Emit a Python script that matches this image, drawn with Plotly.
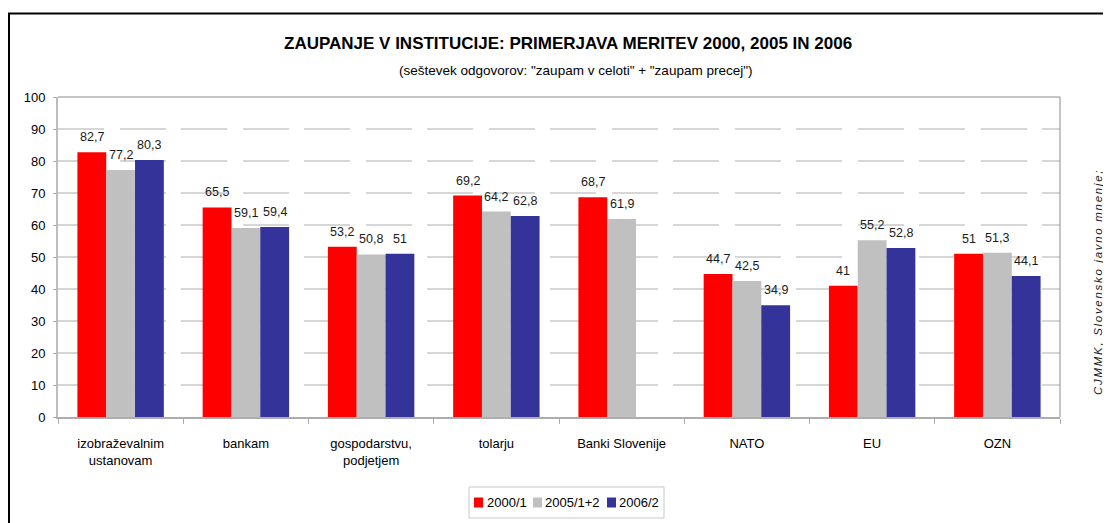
import plotly.graph_objects as go

# ---------------- data ----------------
categories = ["izobraževalnim<br>ustanovam", "bankam", "gospodarstvu,<br>podjetjem",
              "tolarju", "Banki Slovenije", "NATO", "EU", "OZN"]
series_names = ["2000/1", "2005/1+2", "2006/2"]
values_2000 = [82.7, 65.5, 53.2, 69.2, 68.7, 44.7, 41, 51]
values_2005 = [77.2, 59.1, 50.8, 64.2, 61.9, 42.5, 55.2, 51.3]
values_2006 = [80.3, 59.4, 51, 62.8, None, 34.9, 52.8, 44.1]
y_ticks = [0, 10, 20, 30, 40, 50, 60, 70, 80, 90, 100]

title_text = "ZAUPANJE V INSTITUCIJE: PRIMERJAVA MERITEV 2000, 2005 IN 2006"
subtitle_text = '(seštevek odgovorov: "zaupam v celoti" + "zaupam precej")'
source_text = "CJMMK, Slovensko javno mnenje;<br>2000, 2005 in 2006"

colors = ["#FF0000", "#C0C0C0", "#333399"]
series = [values_2000, values_2005, values_2006]

FONT = "Liberation Sans, Arial, sans-serif"

# page geometry (browser body has 8px margin)
OFF = 8
W, H = 1111 - OFF, 515
PL, PR, PT, PB = 58, 1060, 97, 417      # plot area in page px


def px_x(px):
    return (px - PL) / (PR - PL)


def px_y(py):
    return (PB - py) / (PB - PT)


def fmt(v):
    return f"{v:g}".replace(".", ",")


fig = go.Figure()
for name, vals, col in zip(series_names, series, colors):
    fig.add_trace(go.Bar(x=categories, y=vals, name=name, showlegend=False,
                         marker=dict(color=col, line=dict(width=0))))

# value labels
bar_px = (PR - PL) / len(categories) * 0.69 / 3
annotations = []
for i, vals in enumerate(series):
    for cat, v in zip(categories, vals):
        if v is None:
            continue
        annotations.append(dict(x=cat, y=v, xref="x", yref="y", text=fmt(v), showarrow=False,
                                xshift=(i - 1) * bar_px, yshift=6, yanchor="bottom", xanchor="center",
                                font=dict(family=FONT, size=12.5, color="#1a1a1a")))

annotations.append(dict(x=px_x(568), y=px_y(43.5), xref="paper", yref="paper", text=title_text,
                        xanchor="center", yanchor="middle", showarrow=False,
                        font=dict(family=FONT, size=17, color="#000", weight="bold")))
annotations.append(dict(x=px_x(575), y=px_y(71), xref="paper", yref="paper", text=subtitle_text,
                        xanchor="center", yanchor="middle", showarrow=False,
                        font=dict(family=FONT, size=13.5, color="#000")))
annotations.append(dict(x=px_x(1105), y=px_y(282), xref="paper", yref="paper",
                        text='<span style="letter-spacing:1.7px">' + source_text + '</span>',
                        textangle=-90, showarrow=False, xanchor="center", yanchor="middle",
                        font=dict(family=FONT, size=11.5, color="#1a1a1a", style="italic")))

shapes = [
    # outer chart frame
    dict(type="rect", xref="paper", yref="paper", x0=px_x(9), x1=px_x(1130), y0=px_y(540), y1=px_y(13.5),
         line=dict(color="#000", width=2), layer="below"),
    # plot area border top/right
    dict(type="line", xref="paper", yref="paper", x0=0, x1=1, y0=1, y1=1, line=dict(color="#8C8C8C", width=1)),
    dict(type="line", xref="paper", yref="paper", x0=1, x1=1, y0=0, y1=1, line=dict(color="#8C8C8C", width=1)),
    # legend box
    dict(type="rect", xref="paper", yref="paper", x0=px_x(469), x1=px_x(664), y0=px_y(518), y1=px_y(487),
         line=dict(color="#C8C8C8", width=1), fillcolor="white"),
]

# legend entries (key square + label)
legend_sq_x = [474, 533, 607]
legend_tx_x = [485, 543, 617]
for name, col, sx, tx in zip(series_names, colors, legend_sq_x, legend_tx_x):
    shapes.append(dict(type="rect", xref="paper", yref="paper", x0=px_x(sx), x1=px_x(sx + 9),
                       y0=px_y(507.5), y1=px_y(497.5), fillcolor=col, line=dict(width=0)))
    annotations.append(dict(x=px_x(tx), y=px_y(502.5), xref="paper", yref="paper", text=name,
                            xanchor="left", yanchor="middle", showarrow=False,
                            font=dict(family=FONT, size=13, color="#000")))

fig.update_layout(
    width=W, height=H,
    margin=dict(l=PL - OFF, r=W - (PR - OFF), t=PT - OFF, b=H - (PB - OFF), pad=0),
    paper_bgcolor="white", plot_bgcolor="white",
    barmode="group", bargap=0.31, bargroupgap=0,
    font=dict(family=FONT, size=13, color="#000"),
    showlegend=False,
    annotations=annotations, shapes=shapes,
)
fig.update_yaxes(range=[0, 100], tickvals=y_ticks, ticks="outside", ticklen=3, tickcolor="#B0B0B0",
                 showline=True, linecolor="#BDBDBD", linewidth=2,
                 showgrid=True, gridcolor="#D6D6D6", gridwidth=2, griddash="46px,15.5px",
                 zeroline=False, tickfont=dict(size=13, family=FONT, color="#000"), ticklabelstandoff=5,
                 fixedrange=True)
fig.update_xaxes(showline=True, linecolor="#ADADAD", linewidth=2, ticks="outside", ticklen=5,
                 tickcolor="#ADADAD", tickson="boundaries", showgrid=False,
                 tickfont=dict(size=13, family=FONT, color="#000"), ticklabelstandoff=13, fixedrange=True)

fig.write_html("out.html")
